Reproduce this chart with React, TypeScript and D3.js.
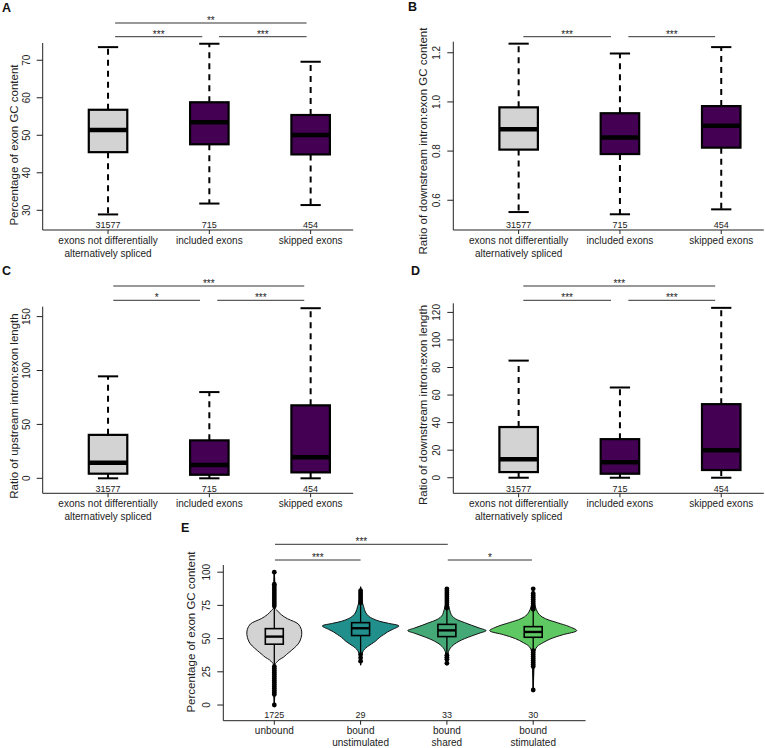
import React from 'react';
import * as d3 from 'd3';

const FONT = "'Liberation Sans', Arial, Helvetica, sans-serif";

// ---- panels A-D: exon groups ----
const exonGroups = [['exons not differentially', 'alternatively spliced'], ['included exons'], ['skipped exons']];
const exonCounts = ['31577', '715', '454'];
const exonFills = ['#d3d3d3', '#440154', '#440154'];

// [lower whisker, Q1, median, Q3, upper whisker]
const gcContentStats = [
  [28.9, 45.5, 51.4, 56.8, 73.5],
  [31.8, 47.6, 53.5, 58.8, 74.4],
  [31.4, 44.9, 50.1, 55.4, 69.6],
];
const downGcRatioStats = [
  [0.552, 0.806, 0.889, 0.978, 1.237],
  [0.543, 0.788, 0.855, 0.954, 1.197],
  [0.563, 0.814, 0.903, 0.983, 1.223],
];
const upLengthStats = [
  [0, 4.3, 14.5, 40.3, 94.6],
  [0, 3.3, 12.3, 35.2, 80.0],
  [0, 5.5, 19.5, 67.7, 157.8],
];
const downLengthStats = [
  [0, 4.1, 13.5, 36.8, 85.0],
  [0, 2.9, 11.2, 28.0, 65.5],
  [0, 5.6, 20.0, 53.4, 123.3],
];

const gcTicks = [30, 40, 50, 60, 70];
const gcRatioTicks = [0.6, 0.8, 1.0, 1.2];
const upLengthTicks = [0, 50, 100, 150];
const downLengthTicks = [0, 20, 40, 60, 80, 100, 120];

// ---- panel E: binding groups ----
const bindGroups = [['unbound'], ['bound', 'unstimulated'], ['bound', 'shared'], ['bound', 'stimulated']];
const bindCounts = ['1725', '29', '33', '30'];
const bindFills = ['#d3d3d3', '#21908c', '#45a977', '#5ec962'];
// [min, Q1, median, Q3, max]
const bindStats = [
  [0, 45.8, 51.5, 57.5, 100],
  [30, 52.3, 57.8, 62.0, 89],
  [30, 51.5, 56.2, 60.7, 88],
  [11, 51.0, 55.0, 59.0, 88],
];
// violin outline: [GC %, relative density]
const unboundDensity = [[100, 0], [74, 0], [71, 0.07], [68, 0.16], [65, 0.3], [63, 0.44], [61, 0.55], [57, 0.62], [53, 0.63], [49, 0.6], [46, 0.55], [43, 0.46], [41, 0.39], [38, 0.28], [36, 0.21], [34, 0.11], [32, 0.05], [30, 0], [0, 0]];
const unstimDensity = [[89, 0], [80, 0.02], [74, 0.07], [70, 0.11], [67, 0.18], [65, 0.28], [63, 0.44], [61.5, 0.64], [59.5, 0.88], [57, 0.74], [55, 0.62], [53, 0.53], [51, 0.44], [48, 0.34], [46, 0.25], [44, 0.16], [42, 0.09], [40, 0.05], [36, 0.01], [30, 0]];
const sharedDensity = [[88, 0], [78, 0.02], [72, 0.06], [68, 0.1], [66, 0.15], [64, 0.25], [62, 0.41], [60, 0.57], [58, 0.74], [56, 0.9], [54, 0.74], [52, 0.57], [50, 0.41], [48, 0.28], [46, 0.18], [44, 0.11], [42, 0.06], [38, 0.02], [30, 0]];
const stimDensity = [[88, 0], [78, 0.02], [72, 0.07], [68, 0.14], [65, 0.28], [62, 0.55], [59, 0.83], [56, 1.0], [53, 0.69], [50, 0.41], [47, 0.23], [44, 0.09], [40, 0.03], [30, 0.02], [11, 0]];
const bindDensities = [unboundDensity, unstimDensity, sharedDensity, stimDensity];

const unboundOutliers = [100, 91, 89.5, 88, 86.5, 85, 83.5, 82, 80.5, 79, 77.5, 76, 74.5, 29, 27.5, 26, 24.5, 23, 21.5, 20, 18.5, 17, 15.5, 14, 12.5, 11, 9.5, 8, 0];
const unstimOutliers = [86, 84.5, 83, 81.5, 80, 78.5, 77, 38, 35.5, 33];
const sharedOutliers = [87.5, 86, 84.5, 83, 81.5, 80, 78.5, 77, 75.5, 74, 73, 37.5, 36, 34.5, 31.5];
const stimOutliers = [87.5, 84, 82.5, 81, 79.5, 78, 76.5, 75, 73.5, 72, 41, 39.5, 38, 36.5, 35, 33.5, 32, 30.5, 29, 11.3];
const bindOutliers = [unboundOutliers, unstimOutliers, sharedOutliers, stimOutliers];
const bindTicks = [0, 25, 50, 75, 100];

type Sig = { from: number; to: number; row: number; label: string };

const panels = [
  {
    letter: 'A', lx: 2, ly: 12, left: 42.7, top: 43, bottom: 230, yDomain: [24.75, 74.6],
    stats: gcContentStats, ticks: gcTicks, fmt: (v: number) => String(v),
    title: 'Percentage of exon GC content', titleX: 18, titleY: 145,
    rows: [36.7, 23],
    sigs: [
      { from: 1.07, to: 1.93, row: 0, label: '***' },
      { from: 2.095, to: 2.96, row: 0, label: '***' },
      { from: 1.07, to: 2.96, row: 1, label: '**' },
    ] as Sig[],
  },
  {
    letter: 'B', lx: 408, ly: 11, left: 453.3, top: 41.7, bottom: 230, yDomain: [0.479, 1.245],
    stats: downGcRatioStats, ticks: gcRatioTicks, fmt: d3.format('.1f'),
    title: 'Ratio of downstream intron:exon GC content', titleX: 427, titleY: 141,
    rows: [36.7],
    sigs: [
      { from: 1.046, to: 1.912, row: 0, label: '***' },
      { from: 2.083, to: 2.94, row: 0, label: '***' },
    ] as Sig[],
  },
  {
    letter: 'C', lx: 2, ly: 275, left: 42.7, top: 306.7, bottom: 493.3, yDomain: [-13.9, 159.2],
    stats: upLengthStats, ticks: upLengthTicks, fmt: (v: number) => String(v),
    title: 'Ratio of upstream intron:exon length', titleX: 18, titleY: 406,
    rows: [300.3, 286],
    sigs: [
      { from: 1.052, to: 1.908, row: 0, label: '*' },
      { from: 2.078, to: 2.937, row: 0, label: '***' },
      { from: 1.052, to: 2.937, row: 1, label: '***' },
    ] as Sig[],
  },
  {
    letter: 'D', lx: 411, ly: 275, left: 453.3, top: 303.3, bottom: 493.3, yDomain: [-11.3, 126.6],
    stats: downLengthStats, ticks: downLengthTicks, fmt: (v: number) => String(v),
    title: 'Ratio of downstream intron:exon length', titleX: 427, titleY: 405,
    rows: [300.3, 286],
    sigs: [
      { from: 1.046, to: 1.912, row: 0, label: '***' },
      { from: 2.083, to: 2.94, row: 0, label: '***' },
      { from: 1.046, to: 2.94, row: 1, label: '***' },
    ] as Sig[],
  },
];

const X_DOMAIN = [0.355, 3.42];
const UNIT = 101.3;

function YAxis({ y, left, top, bottom, ticks, fmt }: any) {
  return (
    <g>
      <line x1={left} x2={left} y1={top} y2={bottom} stroke="#222" strokeWidth={1} />
      {ticks.map((t: number) => (
        <g key={t} transform={`translate(${left},${y(t)})`}>
          <line x1={-6} x2={0} stroke="#222" strokeWidth={1} />
          <text transform="translate(-13,0) rotate(-90)" textAnchor="middle" fontSize={10} fill="#222">{fmt(t)}</text>
        </g>
      ))}
    </g>
  );
}

function SigBars({ x, rows, sigs }: any) {
  return (
    <g>
      {sigs.map((s: Sig, i: number) => (
        <g key={i}>
          <line x1={x(s.from)} x2={x(s.to)} y1={rows[s.row]} y2={rows[s.row]} stroke="#333" strokeWidth={1} />
          <text x={(x(s.from) + x(s.to)) / 2} y={rows[s.row] + 1} textAnchor="middle" fontSize={10} fill="#222">{s.label}</text>
        </g>
      ))}
    </g>
  );
}

function BoxPanel({ p }: any) {
  const x = d3.scaleLinear().domain(X_DOMAIN).range([p.left, p.left + (X_DOMAIN[1] - X_DOMAIN[0]) * UNIT]);
  const y = d3.scaleLinear().domain(p.yDomain).range([p.bottom, p.top]);
  const [x0, x1] = x.range();
  const half = 0.19;
  const cap = 0.1;
  return (
    <g>
      <text x={p.lx} y={p.ly} fontSize={12.5} fontWeight="bold" fill="#111">{p.letter}</text>
      <YAxis y={y} left={p.left} top={p.top} bottom={p.bottom} ticks={p.ticks} fmt={p.fmt} />
      <line x1={x0} x2={x1} y1={p.bottom} y2={p.bottom} stroke="#222" strokeWidth={1} />
      <text transform={`translate(${p.titleX},${p.titleY}) rotate(-90)`} textAnchor="middle" fontSize={11.5} fill="#222">{p.title}</text>
      {p.stats.map((s: number[], i: number) => {
        const c = x(i + 1);
        return (
          <g key={i}>
            <line x1={c} x2={c} y1={y(s[3])} y2={y(s[4])} stroke="#000" strokeWidth={2} strokeDasharray="6 5" />
            <line x1={c} x2={c} y1={y(s[1])} y2={y(s[0])} stroke="#000" strokeWidth={2} strokeDasharray="6 5" />
            <line x1={x(i + 1 - cap)} x2={x(i + 1 + cap)} y1={y(s[4])} y2={y(s[4])} stroke="#000" strokeWidth={2} />
            <line x1={x(i + 1 - cap)} x2={x(i + 1 + cap)} y1={y(s[0])} y2={y(s[0])} stroke="#000" strokeWidth={2} />
            <rect x={x(i + 1 - half)} y={y(s[3])} width={x(i + 1 + half) - x(i + 1 - half)} height={y(s[1]) - y(s[3])}
              fill={exonFills[i]} stroke="#000" strokeWidth={2.2} />
            <line x1={x(i + 1 - half)} x2={x(i + 1 + half)} y1={y(s[2])} y2={y(s[2])} stroke="#000" strokeWidth={4.5} />
            <line x1={c} x2={c} y1={p.bottom} y2={p.bottom + 4} stroke="#222" strokeWidth={1} />
            <text x={c} y={p.bottom - 1.8} textAnchor="middle" fontSize={9} fill="#222">{exonCounts[i]}</text>
            {exonGroups[i].map((l, j) => (
              <text key={j} x={c} y={p.bottom + 14 + j * 13} textAnchor="middle" fontSize={10} fill="#222">{l}</text>
            ))}
          </g>
        );
      })}
      <SigBars x={x} rows={p.rows} sigs={p.sigs} />
    </g>
  );
}

function ViolinPanel() {
  const left = 223.3, top = 565, bottom = 720.7;
  const xDomain = [0.409, 4.607];
  const x = d3.scaleLinear().domain(xDomain).range([left, left + (xDomain[1] - xDomain[0]) * 86.3]);
  const y = d3.scaleLinear().domain([-11.8, 105.4]).range([bottom, top]);
  const w = d3.scaleLinear().domain([0, 1]).range([0, 0.504]);
  const half = 0.104;
  const [x0, x1] = x.range();
  const rows = [560, 544.3];
  const sigs: Sig[] = [
    { from: 1.008, to: 2.0, row: 0, label: '***' },
    { from: 3.01, to: 3.985, row: 0, label: '*' },
    { from: 1.008, to: 3.01, row: 1, label: '***' },
  ];
  return (
    <g>
      <text x={181} y={531.5} fontSize={12.5} fontWeight="bold" fill="#111">E</text>
      <YAxis y={y} left={left} top={top} bottom={bottom} ticks={bindTicks} fmt={(v: number) => String(v)} />
      <line x1={x0} x2={x1} y1={bottom} y2={bottom} stroke="#222" strokeWidth={1} />
      <text transform={`translate(194.5,632) rotate(-90)`} textAnchor="middle" fontSize={11.5} fill="#222">Percentage of exon GC content</text>
      {bindStats.map((s, i) => {
        const c = i + 1;
        const area = d3.area<number[]>()
          .y(d => y(d[0]))
          .x0(d => x(c - w(d[1])))
          .x1(d => x(c + w(d[1])))
          .curve(d3.curveCatmullRom.alpha(0.5));
        return (
          <g key={i}>
            <path d={area(bindDensities[i]) || ''} fill={bindFills[i]} stroke="#111" strokeWidth={1} />
            <line x1={x(c)} x2={x(c)} y1={y(s[0])} y2={y(s[4])} stroke="#000" strokeWidth={1.3} />
            {bindOutliers[i].map((v, k) => (
              <circle key={k} cx={x(c)} cy={y(v)} r={2.4} fill="#000" />
            ))}
            <rect x={x(c - half)} y={y(s[3])} width={x(c + half) - x(c - half)} height={y(s[1]) - y(s[3])}
              fill={bindFills[i]} stroke="#000" strokeWidth={1.6} />
            <line x1={x(c - half)} x2={x(c + half)} y1={y(s[2])} y2={y(s[2])} stroke="#000" strokeWidth={2.4} />
            <line x1={x(c)} x2={x(c)} y1={bottom} y2={bottom + 4} stroke="#222" strokeWidth={1} />
            <text x={x(c)} y={bottom - 3} textAnchor="middle" fontSize={9} fill="#222">{bindCounts[i]}</text>
            {bindGroups[i].map((l, j) => (
              <text key={j} x={x(c)} y={bottom + 13.5 + j * 11.5} textAnchor="middle" fontSize={10} fill="#222">{l}</text>
            ))}
          </g>
        );
      })}
      <SigBars x={x} rows={rows} sigs={sigs} />
    </g>
  );
}

export default function App() {
  return (
    <svg width={765} height={748} style={{ display: 'block', position: 'absolute', left: 0, top: 0, background: '#fff' }}
      fontFamily={FONT}>
      <rect width={765} height={748} fill="#fff" />
      {panels.map(p => <BoxPanel key={p.letter} p={p} />)}
      <ViolinPanel />
    </svg>
  );
}
